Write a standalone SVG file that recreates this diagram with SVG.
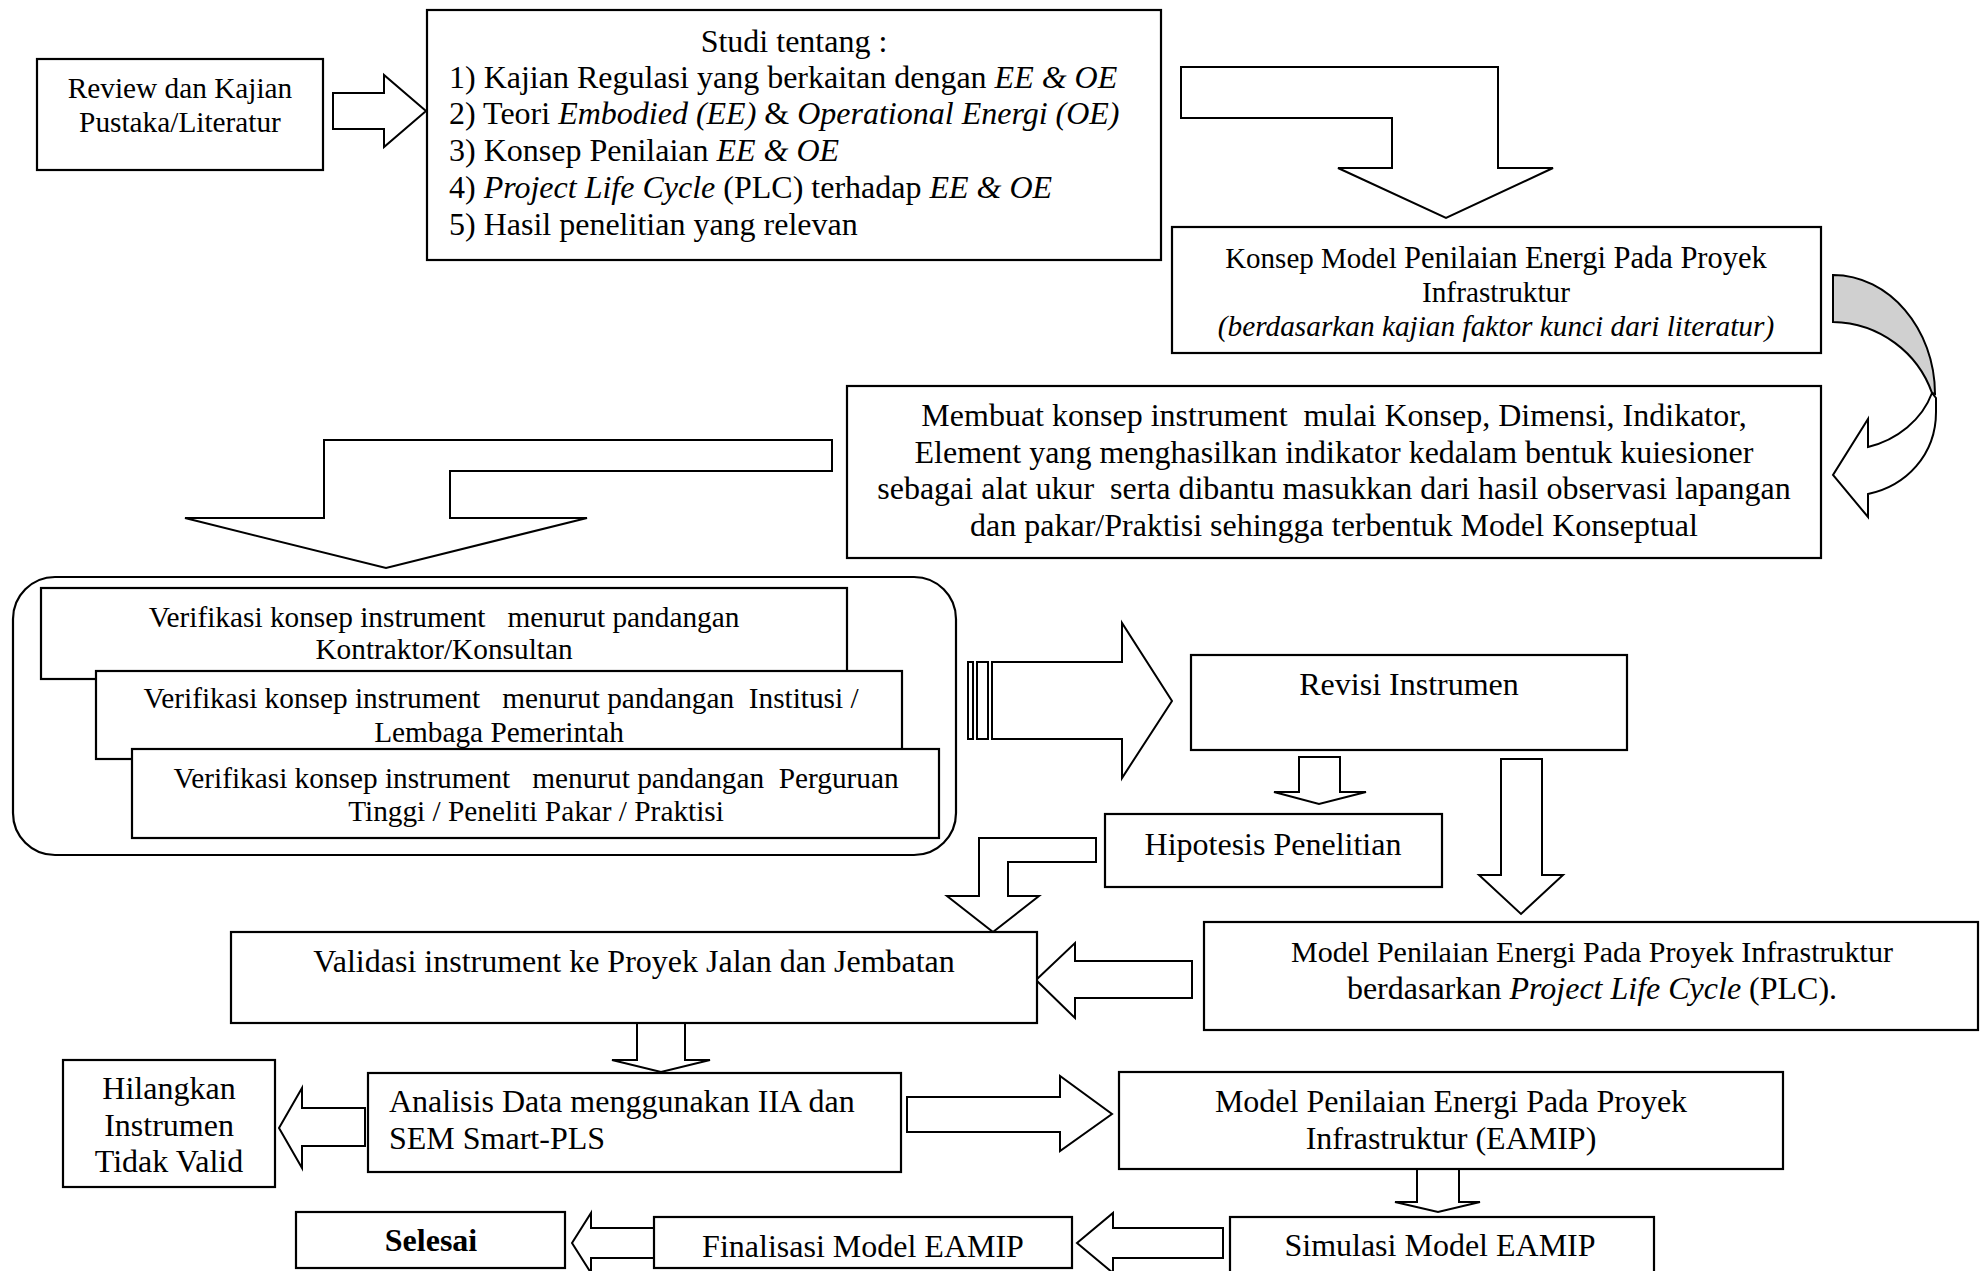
<svg xmlns="http://www.w3.org/2000/svg" width="1986" height="1271" viewBox="0 0 1986 1271">
<style>
.box{fill:#fff;stroke:#000;stroke-width:2.2}
.arr{fill:#fff;stroke:#000;stroke-width:2;stroke-linejoin:miter}
.t{font-family:"Liberation Serif","Times New Roman",serif;fill:#000;white-space:pre}
.c{text-anchor:middle}
.s11{font-size:29.3px}
.s12{font-size:32px}
.i{font-style:italic}
</style>
<rect width="1986" height="1271" fill="#fff"/>
<g id="connectors">
<polygon class="arr" points="333,93 384,93 384,75 426,111 384,147 384,129 333,129"/>
<polygon class="arr" points="1181,67 1498,67 1498,168 1553,168 1446,218 1338,168 1392,168 1392,118 1181,118"/>
<g id="curved-arrow">
<path d="M1833,275 C1889,275 1935,329 1935,394 L1932,393 C1918,353 1880,323 1833,322 Z" fill="#d0d0d0" stroke="#000" stroke-width="2"/>
<path class="arr" d="M1932,393 L1936,398 L1936,412 C1936,455 1906,486 1868,494 L1868,517 L1833,475 L1868,419 L1868,447 C1897,440 1922,420 1932,393 Z"/>
</g>
<polygon class="arr" points="832,440 324,440 324,518 185,518 386,568 587,518 450,518 450,471 832,471"/>
<g id="striped-arrow">
<rect class="arr" x="968" y="662" width="5" height="77"/>
<rect class="arr" x="977" y="662" width="11" height="77"/>
<polygon class="arr" points="992,662 1122,662 1122,623 1172,701 1122,778 1122,739 992,739"/>
</g>
<polygon class="arr" points="1299,757 1340,757 1340,792 1366,792 1319,804 1274,792 1299,792"/>
<polygon class="arr" points="1501,759 1542,759 1542,875 1563,875 1521,914 1479,875 1501,875"/>
<polygon class="arr" points="1096,838 979,838 979,896 947,896 993,932 1039,896 1008,896 1008,862 1096,862"/>
<polygon class="arr" points="1192,961 1075,961 1075,943 1036,980 1075,1018 1075,998 1192,998"/>
<polygon class="arr" points="637,1023 685,1023 685,1060 710,1060 661,1072 612,1060 637,1060"/>
<polygon class="arr" points="365,1108 302,1108 302,1088 279,1128 302,1168 302,1146 365,1146"/>
<polygon class="arr" points="907,1097 1060,1097 1060,1076 1112,1114 1060,1151 1060,1132 907,1132"/>
<polygon class="arr" points="1417,1169 1459,1169 1459,1202 1480,1202 1438,1212 1395,1202 1417,1202"/>
<polygon class="arr" points="1223,1228 1113,1228 1113,1213 1077,1243 1113,1273 1113,1258 1223,1258"/>
<polygon class="arr" points="654,1228 591,1228 591,1213 572,1243 591,1273 591,1258 654,1258"/>
</g>
<g id="review">
<rect class="box" x="37" y="59" width="286" height="111"/>
<text class="t c s11" x="180" y="98">Review dan Kajian</text>
<text class="t c s11" x="180" y="132">Pustaka/Literatur</text>
</g>
<g id="studi">
<rect class="box" x="427" y="10" width="734" height="250"/>
<text class="t c s12" x="794" y="52">Studi tentang :</text>
<text class="t s12" x="449" y="88">1) Kajian Regulasi yang berkaitan dengan <tspan class="i">EE &amp; OE</tspan></text>
<text class="t s12" x="449" y="124">2) Teori <tspan class="i">Embodied (EE)</tspan> &amp; <tspan class="i">Operational Energi (OE)</tspan></text>
<text class="t s12" x="449" y="161">3) Konsep Penilaian <tspan class="i">EE &amp; OE</tspan></text>
<text class="t s12" x="449" y="198">4) <tspan class="i">Project Life Cycle</tspan> (PLC) terhadap <tspan class="i">EE &amp; OE</tspan></text>
<text class="t s12" x="449" y="235">5) Hasil penelitian yang relevan</text>
</g>
<g id="konsep">
<rect class="box" x="1172" y="227" width="649" height="126"/>
<text class="t c" x="1496" y="268"><tspan style="font-size:29px">Konsep Model </tspan><tspan style="font-size:30.5px">Penilaian Energi Pada Proyek</tspan></text>
<text class="t c s11" x="1496" y="302">Infrastruktur</text>
<text class="t c s11 i" x="1496" y="336">(berdasarkan kajian faktor kunci dari literatur)</text>
</g>
<g id="membuat">
<rect class="box" x="847" y="386" width="974" height="172"/>
<text class="t c s12" x="1334" y="426">Membuat konsep instrument  mulai Konsep, Dimensi, Indikator,</text>
<text class="t c s12" x="1334" y="463">Element yang menghasilkan indikator kedalam bentuk kuiesioner</text>
<text class="t c s12" x="1334" y="499">sebagai alat ukur  serta dibantu masukkan dari hasil observasi lapangan</text>
<text class="t c s12" x="1334" y="536">dan pakar/Praktisi sehingga terbentuk Model Konseptual</text>
</g>
<g id="verifikasi">
<rect class="box" x="13" y="577" width="943" height="278" rx="42" ry="42"/>
<g id="verif-kontraktor">
<rect class="box" x="41" y="588" width="806" height="91"/>
<text class="t c s11" x="444" y="627">Verifikasi konsep instrument   menurut pandangan</text>
<text class="t c s11" x="444" y="659">Kontraktor/Konsultan</text>
</g>
<g id="verif-institusi">
<rect class="box" x="96" y="671" width="806" height="88"/>
<text class="t c s11" x="501" y="708">Verifikasi konsep instrument   menurut pandangan  Institusi /</text>
<text class="t c s11" x="499" y="742">Lembaga Pemerintah</text>
</g>
<g id="verif-perguruan">
<rect class="box" x="132" y="749" width="807" height="89"/>
<text class="t c s11" x="536" y="788">Verifikasi konsep instrument   menurut pandangan  Perguruan</text>
<text class="t c s11" x="536" y="821">Tinggi / Peneliti Pakar / Praktisi</text>
</g>
</g>
<g id="revisi">
<rect class="box" x="1191" y="655" width="436" height="95"/>
<text class="t c s12" x="1409" y="695">Revisi Instrumen</text>
</g>
<g id="hipotesis">
<rect class="box" x="1105" y="814" width="337" height="73"/>
<text class="t c s12" x="1273" y="855">Hipotesis Penelitian</text>
</g>
<g id="model-plc">
<rect class="box" x="1204" y="922" width="774" height="108"/>
<text class="t c" x="1592" y="962" style="font-size:30px">Model Penilaian Energi Pada Proyek Infrastruktur</text>
<text class="t c s12" x="1592" y="999">berdasarkan <tspan class="i">Project Life Cycle</tspan> (PLC).</text>
</g>
<g id="validasi">
<rect class="box" x="231" y="932" width="806" height="91"/>
<text class="t c s12" x="634" y="972">Validasi instrument ke Proyek Jalan dan Jembatan</text>
</g>
<g id="hilangkan">
<rect class="box" x="63" y="1060" width="212" height="127"/>
<text class="t c s12" x="169" y="1099">Hilangkan</text>
<text class="t c s12" x="169" y="1136">Instrumen</text>
<text class="t c s12" x="169" y="1172">Tidak Valid</text>
</g>
<g id="analisis">
<rect class="box" x="368" y="1073" width="533" height="99"/>
<text class="t s12" x="389" y="1112">Analisis Data menggunakan IIA dan</text>
<text class="t s12" x="389" y="1149">SEM Smart-PLS</text>
</g>
<g id="eamip">
<rect class="box" x="1119" y="1072" width="664" height="97"/>
<text class="t c s12" x="1451" y="1112">Model Penilaian Energi Pada Proyek</text>
<text class="t c s12" x="1451" y="1149">Infrastruktur (EAMIP)</text>
</g>
<g id="simulasi">
<rect class="box" x="1230" y="1217" width="424" height="70"/>
<text class="t c s12" x="1440" y="1256">Simulasi Model EAMIP</text>
</g>
<g id="finalisasi">
<rect class="box" x="654" y="1217" width="418" height="51"/>
<text class="t c s12" x="863" y="1257">Finalisasi Model EAMIP</text>
</g>
<g id="selesai">
<rect class="box" x="296" y="1212" width="269" height="56"/>
<text class="t c s12" x="431" y="1251" font-weight="bold">Selesai</text>
</g>
</svg>
